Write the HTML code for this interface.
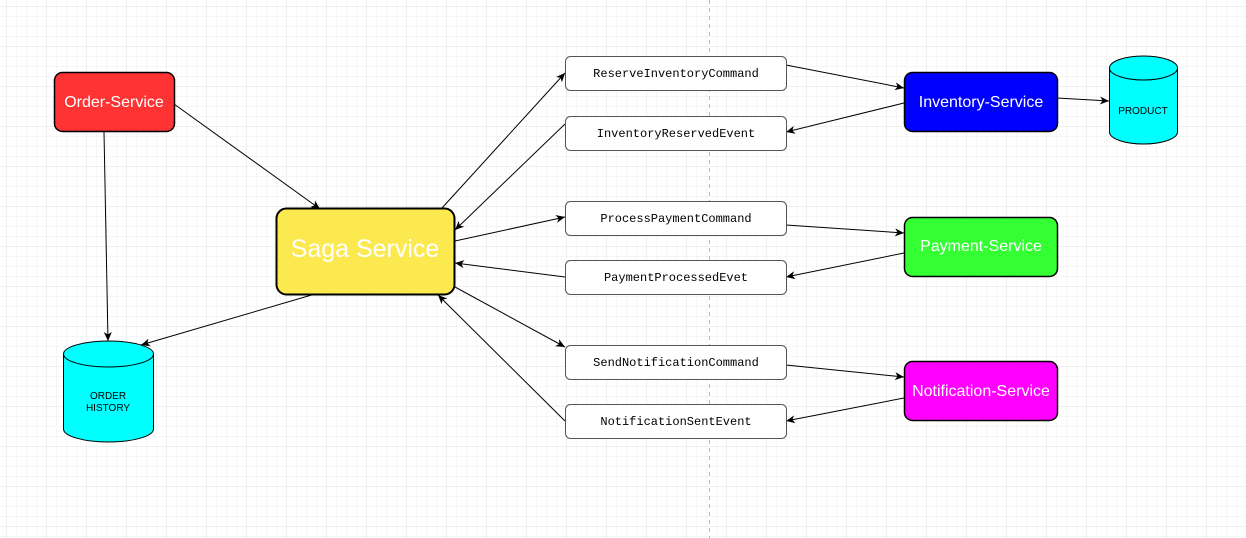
<!DOCTYPE html>
<html><head><meta charset="utf-8"><style>
html,body{margin:0;padding:0;background:#fff;}
svg{display:block;}
</style></head><body>
<svg width="1246" height="538" xmlns="http://www.w3.org/2000/svg" font-family="Liberation Sans, sans-serif">
<defs>
<pattern id="g" width="10" height="10" patternUnits="userSpaceOnUse" x="7" y="7">
<path d="M10 0V10M0 10H10" stroke="#eeeeee" stroke-width="1" fill="none"/>
</pattern>
<pattern id="G" width="40" height="40" patternUnits="userSpaceOnUse" x="7" y="7">
<path d="M40 0V40M0 40H40" stroke="#e0e0e0" stroke-width="1" fill="none"/>
</pattern>
<marker id="a" markerWidth="10" markerHeight="10" refX="9" refY="5" orient="auto" markerUnits="userSpaceOnUse">
<path d="M0 1L9 5L0 9L2.5 5Z" fill="#000"/>
</marker>
</defs>
<rect width="1246" height="538" fill="url(#g)"/>
<rect width="1246" height="538" fill="url(#G)"/>
<line x1="709.5" y1="0" x2="709.5" y2="538" stroke="#bbb" stroke-dasharray="4 4"/>

<g stroke="#000" stroke-width="1" marker-end="url(#a)">
<line x1="174" y1="104" x2="320" y2="209"/>
<line x1="104" y1="132" x2="108" y2="341"/>
<line x1="315" y1="294" x2="141" y2="345"/>
<line x1="442" y1="208" x2="565" y2="73"/>
<line x1="565" y1="124" x2="455" y2="230"/>
<line x1="455" y1="241" x2="565" y2="217"/>
<line x1="565" y1="277" x2="455" y2="263"/>
<line x1="455" y1="287" x2="565" y2="347"/>
<line x1="565" y1="421" x2="438" y2="295"/>
<line x1="786" y1="65" x2="904" y2="88"/>
<line x1="904" y1="103" x2="786" y2="132"/>
<line x1="1057" y1="98" x2="1109" y2="101"/>
<line x1="786" y1="225" x2="904" y2="233"/>
<line x1="904" y1="253" x2="786" y2="277"/>
<line x1="786" y1="365" x2="904" y2="377"/>
<line x1="904" y1="398" x2="786" y2="421"/>
</g>

<rect x="54.5" y="72.5" width="120" height="59" rx="8" fill="#ff3333" stroke="#000" stroke-width="1.5"/>
<text x="114" y="107" font-size="16" fill="#fff" text-anchor="middle">Order-Service</text>

<rect x="276.5" y="208.5" width="178" height="86" rx="10" fill="#fce94f" stroke="#000" stroke-width="2"/>
<text x="365" y="257" font-size="25" fill="#fff" text-anchor="middle">Saga Service</text>

<g fill="#fff" stroke="#555" stroke-width="1">
<rect x="565.5" y="56.5" width="221" height="34" rx="5"/>
<rect x="565.5" y="116.5" width="221" height="34" rx="5"/>
<rect x="565.5" y="201.5" width="221" height="34" rx="5"/>
<rect x="565.5" y="260.5" width="221" height="34" rx="5"/>
<rect x="565.5" y="345.5" width="221" height="34" rx="5"/>
<rect x="565.5" y="404.5" width="221" height="34" rx="5"/>
</g>
<g font-family="Liberation Mono, monospace" font-size="12" text-anchor="middle" fill="#000">
<text x="676" y="77">ReserveInventoryCommand</text>
<text x="676" y="137">InventoryReservedEvent</text>
<text x="676" y="222">ProcessPaymentCommand</text>
<text x="676" y="281">PaymentProcessedEvet</text>
<text x="676" y="366">SendNotificationCommand</text>
<text x="676" y="425">NotificationSentEvent</text>
</g>

<rect x="904.5" y="72.5" width="153" height="59" rx="8" fill="#0000ff" stroke="#000" stroke-width="1.5"/>
<text x="981" y="107" font-size="16" fill="#fff" text-anchor="middle">Inventory-Service</text>
<rect x="904.5" y="217.5" width="153" height="59" rx="8" fill="#33ff33" stroke="#000" stroke-width="1.5"/>
<text x="981" y="251" font-size="16" fill="#fff" text-anchor="middle">Payment-Service</text>
<rect x="904.5" y="361.5" width="153" height="59" rx="8" fill="#ff00ff" stroke="#000" stroke-width="1.5"/>
<text x="981" y="396" font-size="16" fill="#fff" text-anchor="middle">Notification-Service</text>

<g stroke="#000" stroke-width="1" fill="#00ffff">
<path d="M1109.5 68 V132 A34 12 0 0 0 1177.5 132 V68"/>
<ellipse cx="1143.5" cy="68" rx="34" ry="12"/>
<path d="M63.5 354 V429 A45 13 0 0 0 153.5 429 V354"/>
<ellipse cx="108.5" cy="354" rx="45" ry="13"/>
</g>
<text x="1143" y="114" font-size="10" text-anchor="middle">PRODUCT</text>
<text x="108" y="399" font-size="10" text-anchor="middle">ORDER</text>
<text x="108" y="411" font-size="10" text-anchor="middle">HISTORY</text>
</svg>
</body></html>
